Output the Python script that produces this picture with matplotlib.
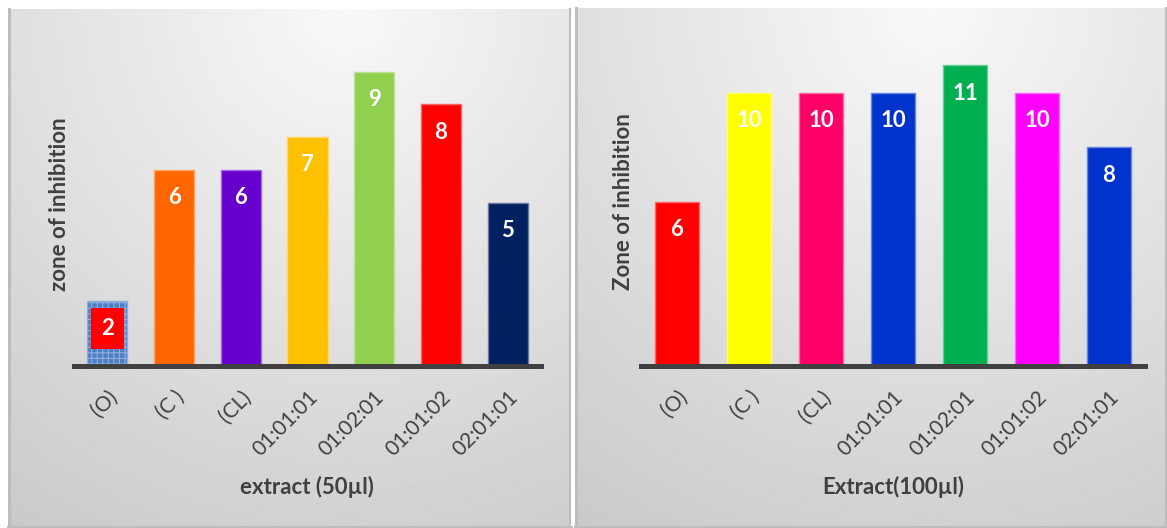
import numpy as np
import matplotlib
matplotlib.use("Agg")
import matplotlib.pyplot as plt

plt.rcParams['font.family'] = ['Lato', 'DejaVu Sans']
plt.rcParams['hatch.linewidth'] = 0.8

categories = ["(O)", "(C )", "(CL)", "01:01:01", "01:02:01", "01:01:02", "02:01:01"]
values_50 = [2, 6, 6, 7, 9, 8, 5]
values_100 = [6, 10, 10, 10, 11, 10, 8]
colors_50 = ["#4f7fc4", "#ff6600", "#6600cc", "#ffc000", "#92d050", "#ff0000", "#002060"]
colors_100 = ["#ff0000", "#ffff00", "#ff0066", "#0033cc", "#00b050", "#ff00ff", "#0033cc"]

W, H = 1167, 528
TXT = "#404040"

fig = plt.figure(figsize=(W / 100, H / 100), dpi=100)
fig.patch.set_facecolor("white")


def px(x0, y0, x1, y1):
    # pixel box (top-left origin) -> figure fraction rect
    return [x0 / W, 1 - y1 / H, (x1 - x0) / W, (y1 - y0) / H]


def panel_bg(x0, y0, x1, y1):
    bg = fig.add_axes(px(x0, y0, x1, y1), zorder=0)
    ny, nx = 200, 300
    yy, xx = np.mgrid[0:1:ny * 1j, 0:1:nx * 1j]
    d = np.sqrt(((xx - 0.6) * 1.1) ** 2 + (yy * 1.0) ** 2)
    img = 0.975 - 0.17 * np.clip(d, 0, 1.2) / 1.1
    bg.imshow(img, cmap="gray", vmin=0, vmax=1, aspect="auto",
              extent=[0, 1, 1, 0], interpolation="bilinear")
    bg.set_xlim(0, 1)
    bg.set_ylim(1, 0)
    bg.set_xticks([])
    bg.set_yticks([])
    for s in bg.spines.values():
        s.set_visible(False)
    # thin grey frame on top/left/right
    bg.plot([0, 1], [0.002, 0.002], color="#bdbdbd", lw=2.2, transform=bg.transAxes, clip_on=False)
    bg.plot([0.002, 0.002], [0, 1], color="#bdbdbd", lw=2.2, transform=bg.transAxes, clip_on=False)
    bg.plot([0.998, 0.998], [0, 1], color="#bdbdbd", lw=1.5, transform=bg.transAxes, clip_on=False)


def bar_panel(rect, values, colors, ymax, xlabel, ylabel, xl_pos, yl_pos, hatch_first=False):
    ax = fig.add_axes(rect, zorder=2)
    ax.patch.set_alpha(0)
    x = np.arange(len(values))
    bars = ax.bar(x, values, width=0.6, color=colors, linewidth=1.0, zorder=3)
    for b, c in zip(bars, colors):
        rgb = np.array(matplotlib.colors.to_rgb(c))
        b.set_edgecolor(rgb + (1 - rgb) * 0.4)
    if hatch_first:
        bars[0].set_hatch("+++")
        bars[0].set_edgecolor("#8eaedb")
    ax.set_xlim(-0.5, len(values) - 0.5)
    ax.set_ylim(0, ymax)
    ax.set_yticks([])
    for s in ["top", "left", "right"]:
        ax.spines[s].set_visible(False)
    ax.spines["bottom"].set_color("#404040")
    ax.spines["bottom"].set_linewidth(3.6)
    ax.spines["bottom"].set_zorder(4)
    ax.set_xticks(x)
    ax.set_xticklabels(categories, rotation=45, ha="right", rotation_mode="anchor",
                       fontsize=15, color=TXT)
    ax.tick_params(axis="x", length=0, pad=15)
    for i, v in enumerate(values):
        box = None
        if hatch_first and i == 0:
            box = dict(boxstyle="square,pad=0.45", fc="#ff0000", ec="none")
        ax.annotate(str(v), (x[i], v), xytext=(0, -20), textcoords="offset points",
                    ha="center", va="center", color="white", fontsize=16,
                    fontweight="bold", bbox=box, zorder=5)
    fig.text(xl_pos[0] / W, 1 - xl_pos[1] / H, xlabel, ha="center", va="center",
             fontsize=16, fontweight="bold", color=TXT)
    fig.text(yl_pos[0] / W, 1 - yl_pos[1] / H, ylabel, ha="center", va="center",
             rotation=90, fontsize=16, fontweight="bold", color=TXT)
    return ax


panel_bg(8, 9, 571, 528)
panel_bg(575, 8, 1167, 528)

bar_panel(px(74, 39, 541, 366), values_50, colors_50, 10,
          "extract (50µl)", "zone of inhibition", (307, 487), (59, 204), hatch_first=True)
bar_panel(px(641, 38, 1145, 366), values_100, colors_100, 12,
          "Extract(100µl)", "Zone of inhibition", (893, 487), (624, 202))

fig.savefig("out.png", dpi=100)
